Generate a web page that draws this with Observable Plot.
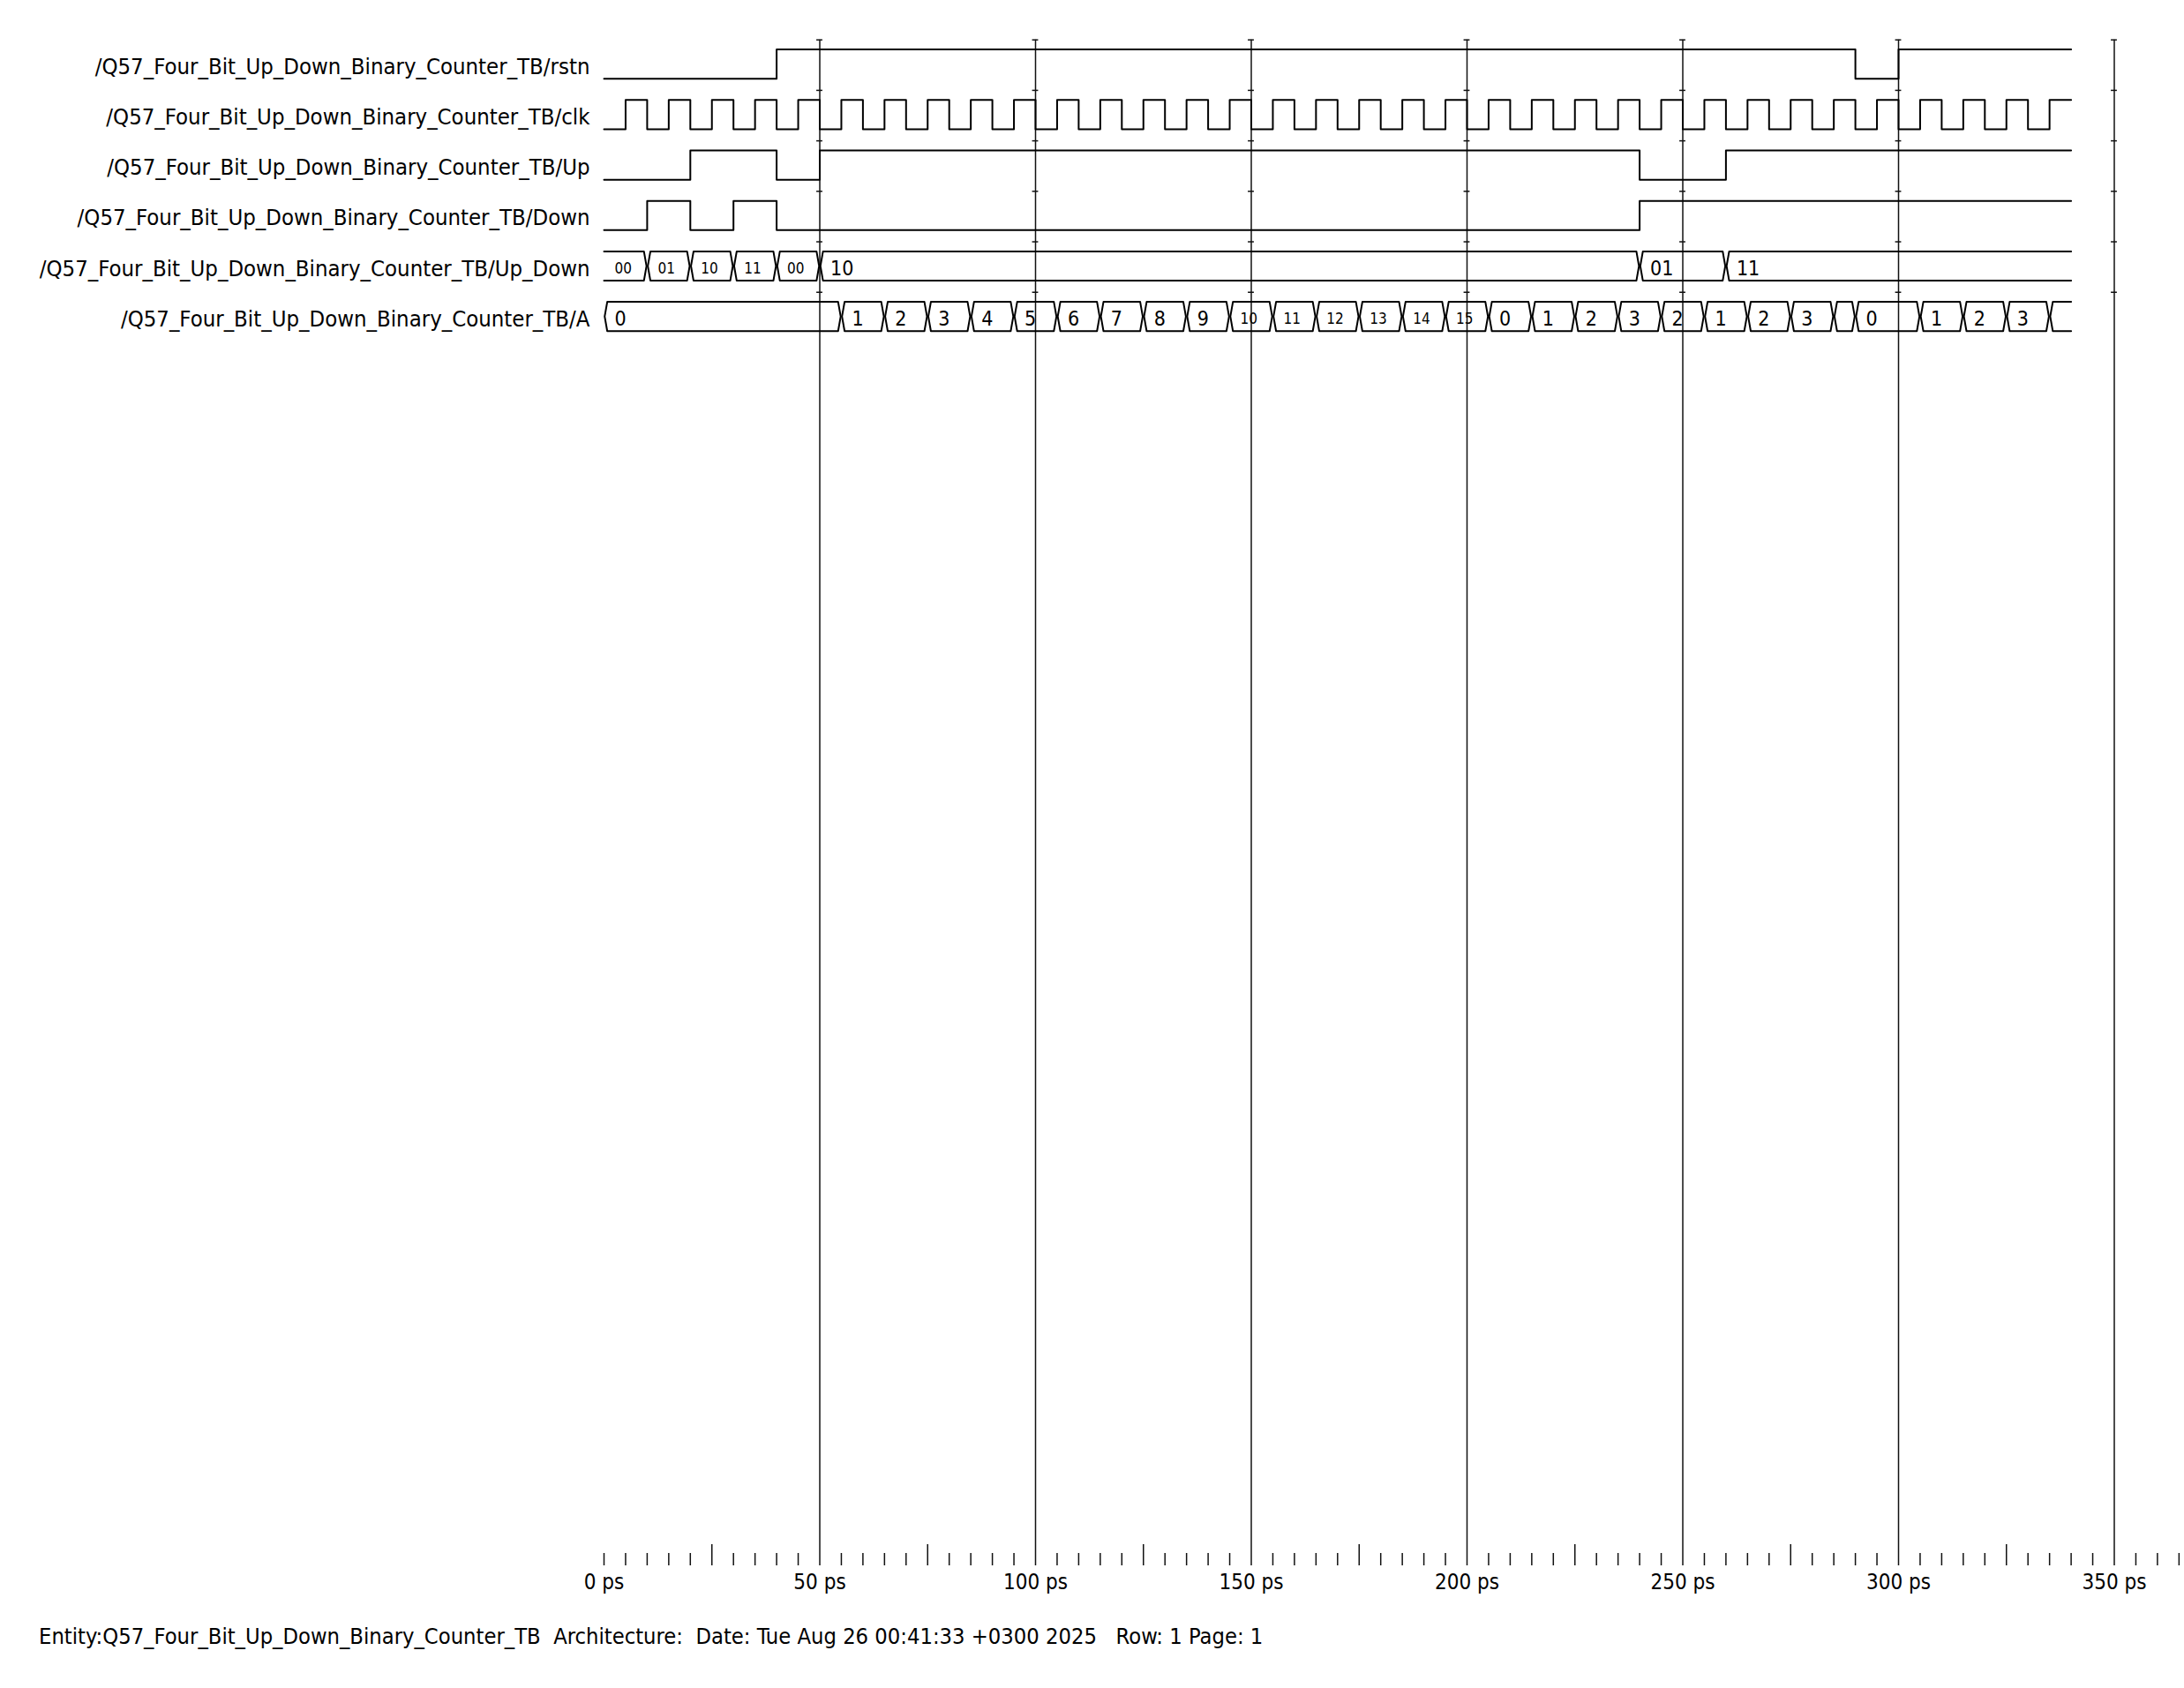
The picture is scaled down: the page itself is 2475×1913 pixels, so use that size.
<!DOCTYPE html>
<html>
<head>
<meta charset="utf-8">
<script src="https://cdn.jsdelivr.net/npm/d3@7"></script>
<script src="https://cdn.jsdelivr.net/npm/@observablehq/plot@0.6"></script>
<style>
  html, body { margin: 0; padding: 0; background: #fff; }
  body { width: 2475px; height: 1913px; overflow: hidden;
         font-family: "DejaVu Sans Condensed", "DejaVu Sans", sans-serif; font-stretch: condensed; }
  #footer { margin-top: 10px; padding-left: 44px; font-size: 25.3px; line-height: 30px; color: #000; white-space: pre; }
  svg text { font-stretch: condensed; }
</style>
</head>
<body>
<div id="chart"></div>
<div id="footer"></div>
<script>
// ---------------- data ----------------
const signalNames = [
  "/Q57_Four_Bit_Up_Down_Binary_Counter_TB/rstn",
  "/Q57_Four_Bit_Up_Down_Binary_Counter_TB/clk",
  "/Q57_Four_Bit_Up_Down_Binary_Counter_TB/Up",
  "/Q57_Four_Bit_Up_Down_Binary_Counter_TB/Down",
  "/Q57_Four_Bit_Up_Down_Binary_Counter_TB/Up_Down",
  "/Q57_Four_Bit_Up_Down_Binary_Counter_TB/A"
];
const simEnd = 340; // ps

const rstnTimes  = [0, 40, 290, 300];
const rstnValues = [0, 1, 0, 1];

const clkTimes  = [0,5,10,15,20,25,30,35,40,45,50,55,60,65,70,75,80,85,90,95,100,105,110,115,120,125,130,135,140,145,150,155,160,165,170,175,180,185,190,195,200,205,210,215,220,225,230,235,240,245,250,255,260,265,270,275,280,285,290,295,300,305,310,315,320,325,330,335];
const clkValues = [0,1,0,1,0,1,0,1,0,1,0,1,0,1,0,1,0,1,0,1,0,1,0,1,0,1,0,1,0,1,0,1,0,1,0,1,0,1,0,1,0,1,0,1,0,1,0,1,0,1,0,1,0,1,0,1,0,1,0,1,0,1,0,1,0,1,0,1];

const upTimes  = [0, 20, 40, 50, 240, 260];
const upValues = [0, 1, 0, 1, 0, 1];

const downTimes  = [0, 10, 20, 30, 40, 240];
const downValues = [0, 1, 0, 1, 0, 1];

const upDownStarts = [0, 10, 20, 30, 40, 50, 240, 260];
const upDownValues = ["00", "01", "10", "11", "00", "10", "01", "11"];

const aStarts = [0,55,65,75,85,95,105,115,125,135,145,155,165,175,185,195,205,215,225,235,245,255,265,275,285,290,305,315,325,335];
const aValues = ["0","1","2","3","4","5","6","7","8","9","10","11","12","13","14","15","0","1","2","3","2","1","2","3","4","0","1","2","3","4"];

const majorTicks  = [50, 100, 150, 200, 250, 300, 350];
const mediumTicks = [25, 75, 125, 175, 225, 275, 325];
const minorTicks  = [0,5,10,15,20,30,35,40,45,55,60,65,70,80,85,90,95,105,110,115,120,130,135,140,145,155,160,165,170,180,185,190,195,205,210,215,220,230,235,240,245,255,260,265,270,280,285,290,295,305,310,315,320,330,335,340,345,355,360,365];
const footerText = "Entity:Q57_Four_Bit_Up_Down_Binary_Counter_TB  Architecture:  Date: Tue Aug 26 00:41:33 +0300 2025   Row: 1 Page: 1";

// ---------------- layout helpers (row units) ----------------
const HI = 0.19, LO = 0.77, MID = 0.48;   // within a row
const yBottom = 30.23;                     // bottom of the wave window (axis line)
const slant = 0.75, gap = 0.15;            // bus chevron, in ps

// digital signals
const digital = [];
[[rstnTimes, rstnValues], [clkTimes, clkValues], [upTimes, upValues], [downTimes, downValues]]
  .forEach(([ts, vs], row) => {
    ts.forEach((t, i) => digital.push({row, t, y: row + (vs[i] ? HI : LO)}));
    digital.push({row, t: simEnd, y: row + (vs[vs.length - 1] ? HI : LO)});
  });

// bus signals
const busPts = [], busLabels = [];
function addBus(starts, values, row, openStart) {
  starts.forEach((t0, i) => {
    const t1 = i + 1 < starts.length ? starts[i + 1] : simEnd;
    const last = i + 1 >= starts.length;
    const first = i === 0 && openStart;
    const id = row + "-" + i;
    const top = row + HI, bot = row + LO, mid = row + MID;
    let pts;
    if (first) {
      pts = [[t0, top], [t1 - slant, top], [t1 - gap, mid], [t1 - slant, bot], [t0, bot]];
    } else if (last) {
      pts = [[t1, top], [t0 + slant, top], [t0 + gap, mid], [t0 + slant, bot], [t1, bot]];
    } else {
      pts = [[t0 + gap, mid], [t0 + slant, top], [t1 - slant, top], [t1 - gap, mid],
             [t1 - slant, bot], [t0 + slant, bot], [t0 + gap, mid]];
    }
    pts.forEach(([t, y]) => busPts.push({id, t, y}));
    const dur = t1 - t0;
    if (dur >= 10) {
      busLabels.push({t: t0, y: mid, text: values[i], small: values[i].length >= 2 && dur <= 10});
    }
  });
}
addBus(upDownStarts, upDownValues, 4, true);
addBus(aStarts, aValues, 5, false);

const crosses = [];
majorTicks.forEach(x => [0, 1, 2, 3, 4, 5].forEach(r => crosses.push({x, r})));

const ink = "#000";
const gridInk = "#111";

const chart = Plot.plot({
  width: 2475,
  height: 1830,
  marginLeft: 684,
  marginRight: 79.5,
  marginTop: 44.7,
  marginBottom: 56,
  style: {fontFamily: '"DejaVu Sans Condensed", "DejaVu Sans", sans-serif', background: "#fff", color: "#000"},
  x: {domain: [0, 350], axis: null},
  y: {domain: [0, yBottom], reverse: true, axis: null},
  marks: [
    // cursor / major time lines
    Plot.ruleX(majorTicks, {x: d => d, y1: 0, y2: yBottom, stroke: gridInk, strokeWidth: 1.5}),
    Plot.ruleY(crosses, {y: "r", x1: d => d.x - 0.7, x2: d => d.x + 0.7, stroke: gridInk, strokeWidth: 1.5}),
    // time axis ticks
    Plot.ruleX(minorTicks, {x: d => d, y1: yBottom - 0.245, y2: yBottom, stroke: gridInk, strokeWidth: 1.5}),
    Plot.ruleX(mediumTicks, {x: d => d, y1: yBottom - 0.42, y2: yBottom, stroke: gridInk, strokeWidth: 1.5}),
    Plot.text(majorTicks.concat([0]), {x: d => d, frameAnchor: "bottom", lineAnchor: "top", dy: 9,
      text: d => `${d} ps`, fontSize: 24, fill: ink}),
    // digital waves
    Plot.line(digital, {x: "t", y: "y", z: "row", curve: "step-after", stroke: ink, strokeWidth: 2}),
    // bus waves
    Plot.line(busPts, {x: "t", y: "y", z: "id", stroke: ink, strokeWidth: 2}),
    Plot.text(busLabels.filter(d => !d.small), {x: "t", y: "y", text: "text", dx: 12, dy: 3, textAnchor: "start", fontSize: 23, fill: ink}),
    Plot.text(busLabels.filter(d => d.small), {x: "t", y: "y", text: "text", dx: 12, dy: 3, textAnchor: "start", fontSize: 17, fill: ink}),
    // signal names
    Plot.text(signalNames, {x: 0, y: (d, i) => i + MID, text: d => d, dx: -16, dy: 3, textAnchor: "end", fontSize: 25.5, fill: ink})
  ]
});
document.getElementById("chart").appendChild(chart);
document.getElementById("footer").textContent = footerText;
</script>
</body>
</html>
